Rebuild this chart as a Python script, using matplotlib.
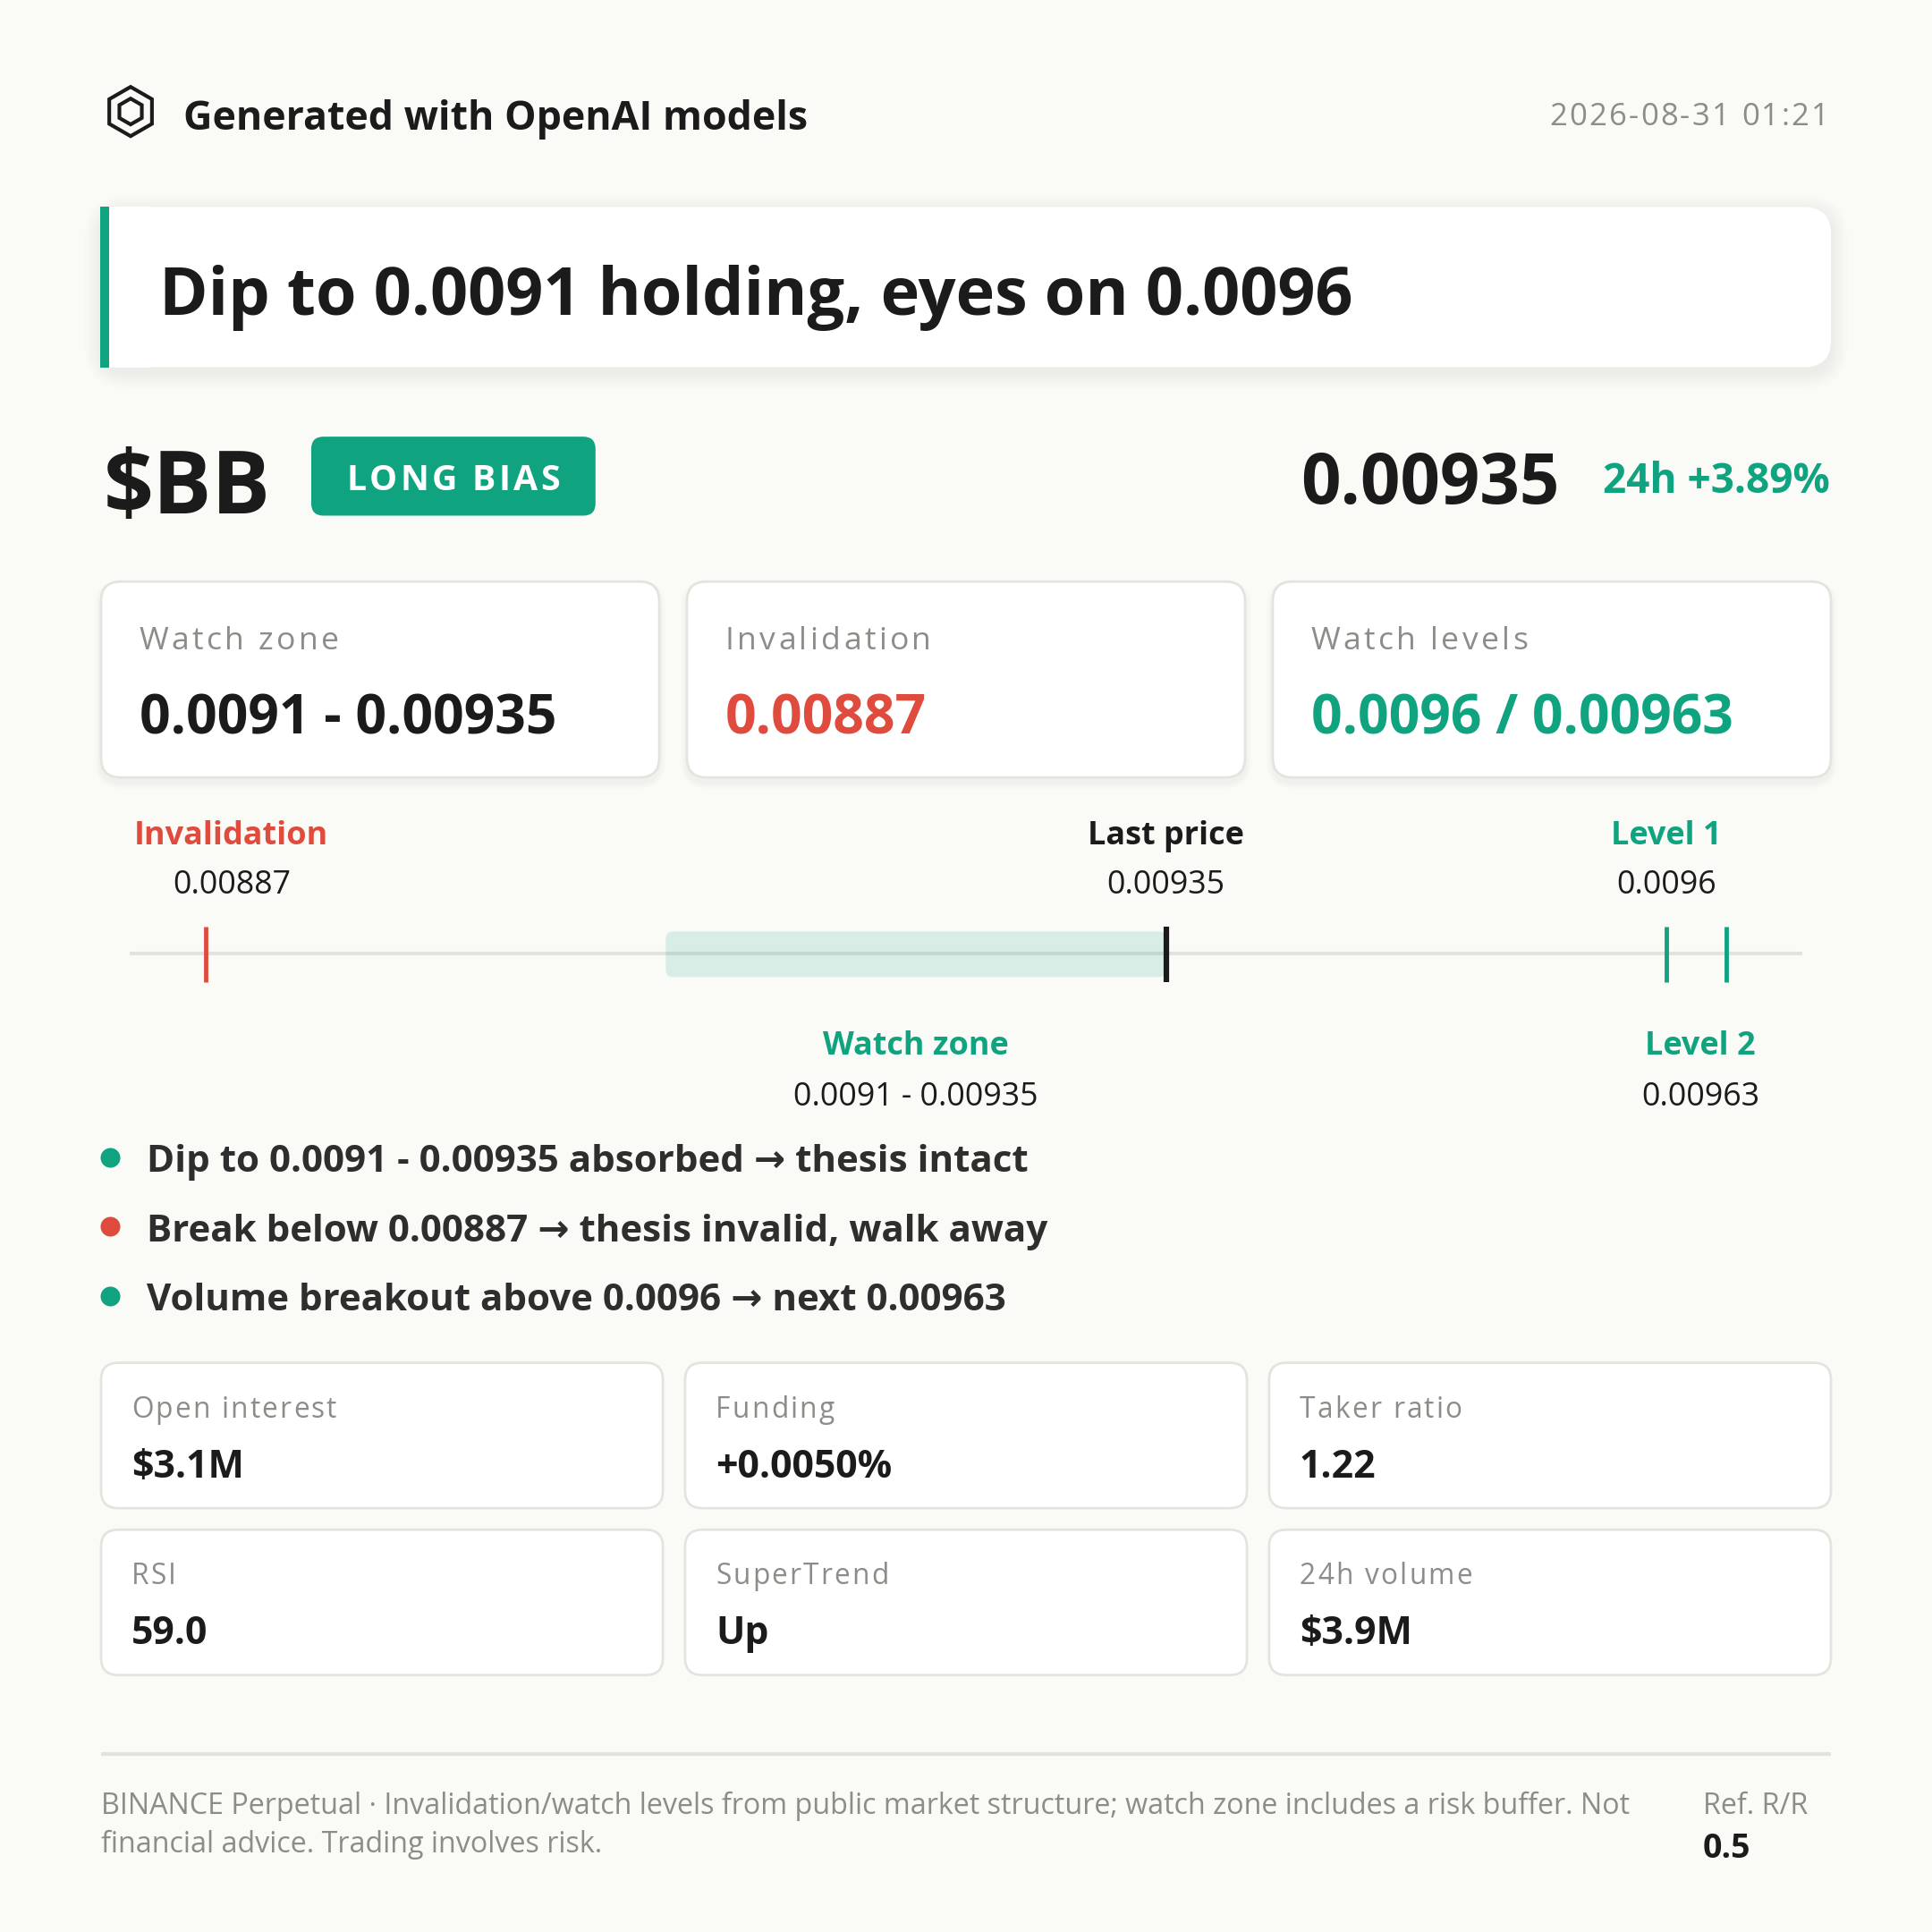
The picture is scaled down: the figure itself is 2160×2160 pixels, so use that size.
import numpy as np
import matplotlib

matplotlib.use("Agg")
import matplotlib.pyplot as plt  # noqa: E402
from matplotlib.patches import FancyBboxPatch, RegularPolygon, Rectangle  # noqa: E402

# ── dados do card ────────────────────────────────────────────────────────────
TICKER = "$BB"
BIAS = "LONG BIAS"
HEADLINE = "Dip to 0.0091 holding, eyes on 0.0096"
STAMP = "2026-08-31 01:21"
LAST_PRICE = 0.00935
CHANGE_24H = 3.89
ZONE = [0.0091, 0.00935]
INVALIDATION = 0.00887
LEVELS = [0.0096, 0.00963]

CARD_TITLES = ["Watch zone", "Invalidation", "Watch levels"]

MARK_NAMES = ["Invalidation", "Last price", "Level 1", "Level 2"]
MARK_VALUES = [INVALIDATION, LAST_PRICE, LEVELS[0], LEVELS[1]]
MARK_SIDES = ["top", "top", "top", "bottom"]

BULLETS = [
    "Dip to 0.0091 - 0.00935 absorbed → thesis intact",
    "Break below 0.00887 → thesis invalid, walk away",
    "Volume breakout above 0.0096 → next 0.00963",
]
BULLET_OK = [True, False, True]

STAT_NAMES = ["Open interest", "Funding", "Taker ratio", "RSI", "SuperTrend", "24h volume"]
STAT_VALUES = ["$3.1M", "+0.0050%", "1.22", "59.0", "Up", "$3.9M"]

FOOTER = [
    "BINANCE Perpetual · Invalidation/watch levels from public market structure; "
    "watch zone includes a risk buffer. Not",
    "financial advice. Trading involves risk.",
]
RR = 0.5

# ── estilo ───────────────────────────────────────────────────────────────────
W = 1568.0            # unidades de layout (px da referência)
PX = 2160 / W         # px reais por unidade


def fs(em):
    return em * PX * 72 / 300


def lw(px):
    return px * PX * 72 / 300


def fmt(v):
    return f"{v:g}"


BG = "#fafaf7"
INK = "#1b1b1b"
BODY = "#2e2e2e"
GREY = "#8c8c88"
GREEN = "#10a37f"
RED = "#df4c3d"
EDGE = "#e4e4df"
RULE = "#e2e2de"

plt.rcParams["font.family"] = ["Open Sans", "DejaVu Sans"]

fig = plt.figure(figsize=(7.2, 7.2), dpi=300, facecolor=BG)
ax = fig.add_axes([0, 0, 1, 1])
ax.set_xlim(0, W)
ax.set_ylim(W, 0)
ax.axis("off")
renderer = fig.canvas.get_renderer()


def put(x, y, s, size, width=None, **kw):
    """Texto na linha de base; se width for dado, ajusta o corpo à largura."""
    t = ax.text(x, y, s, fontsize=fs(size), va="baseline", **kw)
    if width:
        w = t.get_window_extent(renderer).width / PX
        t.set_fontsize(fs(size) * width / w)
    return t


def spaced(x, y, s, size, track, ha="left", **kw):
    """Texto com letter-spacing (track em em)."""
    gap = track * size

    def width(t):
        tt = ax.text(0, 0, t, fontsize=fs(size), **kw)
        w = tt.get_window_extent(renderer).width / PX
        tt.remove()
        return w

    ends = [width(s[:i + 1]) + i * gap if ch != " " else 0 for i, ch in enumerate(s)]
    total = ends[-1]
    x0 = {"left": x, "center": x - total / 2, "right": x - total}[ha]
    for i, ch in enumerate(s):
        if ch != " ":
            ax.text(x0 + ends[i], y, ch, ha="right", va="baseline", fontsize=fs(size), **kw)


def card(x0, y0, w, h, r, face="white", edge=EDGE, blur=5, alpha=0.006):
    for k in range(1, blur + 1):
        ax.add_patch(FancyBboxPatch(
            (x0 - k, y0 - k + 4), w + 2 * k, h + 2 * k,
            boxstyle=f"round,pad=0,rounding_size={r + k}",
            fc="black", ec="none", alpha=alpha, zorder=1))
    ax.add_patch(FancyBboxPatch(
        (x0, y0), w, h, boxstyle=f"round,pad=0,rounding_size={r}",
        fc=face, ec=edge, lw=lw(2), zorder=2))


# ── cabeçalho ────────────────────────────────────────────────────────────────
for r in (20, 10.5):
    ax.add_patch(RegularPolygon((106, 90.5), 6, radius=r, fill=False, ec=INK, lw=lw(3)))
put(149, 105.6, "Generated with OpenAI models", 31.1, width=508, weight="bold", color=INK)
spaced(1484, 101.4, STAMP, 25.1, 0.065, ha="right", color=GREY)

# ── manchete ─────────────────────────────────────────────────────────────────
card(82, 168, 1404, 130, 22, edge="none", blur=14, alpha=0.004)
ax.add_patch(Rectangle((82, 168), 40, 130, fc="white", ec="none", zorder=2))
ax.add_patch(Rectangle((81.5, 168), 7, 130, fc=GREEN, ec="none", zorder=3))
put(129, 255.6, HEADLINE, 52.5, width=969, weight="bold", color=INK, zorder=4)

# ── ticker / preço ───────────────────────────────────────────────────────────
put(84, 416.6, TICKER, 72.6, width=136, weight="bold", color=INK)
ax.add_patch(FancyBboxPatch((252.6, 354.4), 230.7, 64.1,
                            boxstyle="round,pad=0,rounding_size=10", fc=GREEN, ec="none"))
spaced(367.9, 398.1, BIAS, 28.5, 0.085, ha="center", color="white", weight="bold")
put(1485, 400, f"24h {CHANGE_24H:+.2f}%", 31.7, width=184, ha="right",
    weight="bold", color=GREEN)
put(1266, 408.4, fmt(LAST_PRICE), 54.4, width=210, ha="right", weight="bold", color=INK)

# ── cards principais ─────────────────────────────────────────────────────────
card_values = [f"{fmt(ZONE[0])} - {fmt(ZONE[1])}", fmt(INVALIDATION),
               " / ".join(fmt(v) for v in LEVELS)]
card_colors = [INK, RED, GREEN]
value_size = None
for i, (title, val, col) in enumerate(zip(CARD_TITLES, card_values, card_colors)):
    x0 = 82 + i * 475.5
    card(x0, 472, 453, 159, 16)
    spaced(x0 + 31, 526.8, title, 25.8, 0.095, color=GREY, zorder=3)
    t = put(x0 + 31, 595.5, val, 43, width=None if value_size else 338,
            weight="bold", color=col, zorder=3)
    if value_size:
        t.set_fontsize(value_size)
    value_size = t.get_fontsize()

# ── régua de preços ──────────────────────────────────────────────────────────
lo = min(MARK_VALUES + ZONE)
hi = max(MARK_VALUES + ZONE)
pad = 0.05 * (hi - lo)
rax = fig.add_axes([105 / W, 1 - 808 / W, 1358 / W, 68 / W])
rax.set_xlim(lo - pad, hi + pad)
rax.set_ylim(808, 740)
rax.axis("off")
span = hi - lo + 2 * pad
xpp = span / 1358

rax.axhline(774, color=RULE, lw=lw(3), zorder=1)
rax.add_patch(FancyBboxPatch(
    (ZONE[0], 756), ZONE[1] - ZONE[0], 37,
    boxstyle=f"round,pad=0,rounding_size={6 * xpp}", mutation_aspect=1 / xpp,
    fc=GREEN, alpha=0.15, ec="none", zorder=2))

mark_colors = [RED, INK, GREEN, GREEN]
mark_widths = [lw(3.5), lw(4.5), lw(3.5), lw(3.5)]
rax.vlines(MARK_VALUES, 752, 797, colors=mark_colors, lw=mark_widths, zorder=3)


def clamp(v):
    return float(np.clip(v, lo - pad + 0.061 * span, hi + pad - 0.061 * span))


for name, val, col, side in zip(MARK_NAMES, MARK_VALUES, mark_colors, MARK_SIDES):
    y1, y2 = (685, 725) if side == "top" else (856, 897)
    rax.text(clamp(val), y1, name, ha="center", va="baseline", fontsize=fs(26.1),
             weight="bold", color=col)
    rax.text(clamp(val), y2, fmt(val), ha="center", va="baseline",
             fontsize=fs(26.0), color=INK)

zone_mid = (ZONE[0] + ZONE[1]) / 2
rax.text(clamp(zone_mid), 856, "Watch zone", ha="center", va="baseline",
         fontsize=fs(26.1), weight="bold", color=GREEN)
rax.text(clamp(zone_mid), 897, f"{fmt(ZONE[0])} - {fmt(ZONE[1])}", ha="center",
         va="baseline", fontsize=fs(26.0), color=INK)

# ── bullets ──────────────────────────────────────────────────────────────────
bullet_size = None
for i, (txt, ok) in enumerate(zip(BULLETS, BULLET_OK)):
    yb = 951.3 + i * 56.2
    ax.plot(89, yb - 12, "o", ms=lw(16), color=GREEN if ok else RED, mec="none")
    t = put(118.8, yb, txt, 31.7, width=None if bullet_size else 716,
            weight="bold", color=BODY)
    if bullet_size:
        t.set_fontsize(bullet_size)
    bullet_size = t.get_fontsize()

# ── grade de indicadores ─────────────────────────────────────────────────────
stat_size = None
for i, (name, val) in enumerate(zip(STAT_NAMES, STAT_VALUES)):
    x0 = 82 + (i % 3) * 474
    y0 = 1106 + (i // 3) * 135.5
    card(x0, y0, 456, 118, 14, blur=0)
    spaced(x0 + 24.7, y0 + 44.4, name, 23.0, 0.07, color=GREY, zorder=3)
    t = put(x0 + 24.7, y0 + 93, val, 31.7, width=None if stat_size else 91,
            weight="bold", color=INK, zorder=3)
    if stat_size:
        t.set_fontsize(stat_size)
    stat_size = t.get_fontsize()

# ── rodapé ───────────────────────────────────────────────────────────────────
ax.plot([82, 1486], [1423.3, 1423.3], color=RULE, lw=lw(3), solid_capstyle="butt")
t = put(82, 1471.9, FOOTER[0], 21.9, width=1241, color=GREY)
foot_size = t.get_fontsize()
ax.text(82, 1503.1, FOOTER[1], fontsize=foot_size, color=GREY, va="baseline")
ax.text(1382, 1471.9, "Ref. R/R", fontsize=foot_size, color=GREY, va="baseline")
put(1382, 1507.5, fmt(RR), 24.3, width=39, weight="bold", color=INK)

fig.savefig("out.png", dpi=300, facecolor=BG)
